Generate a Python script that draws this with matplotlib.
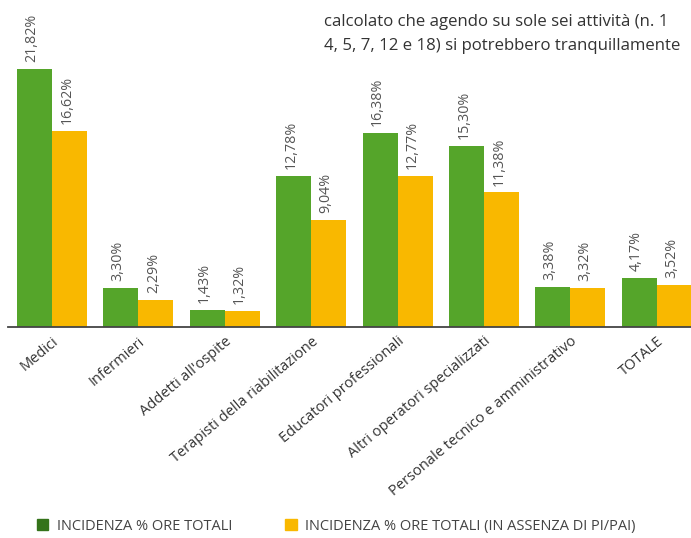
import matplotlib
matplotlib.use('Agg')
import matplotlib.pyplot as plt
from matplotlib.patches import Patch
import numpy as np

plt.rcParams['font.family'] = ['Open Sans', 'DejaVu Sans']

categories = ['Medici', 'Infermieri', "Addetti all'ospite", 'Terapisti della riabilitazione',
              'Educatori professionali', 'Altri operatori specializzati',
              'Personale tecnico e amministrativo', 'TOTALE']
ore_totali = [21.82, 3.30, 1.43, 12.78, 16.38, 15.30, 3.38, 4.17]
ore_senza_pi = [16.62, 2.29, 1.32, 9.04, 12.77, 11.38, 3.32, 3.52]
series_names = ['INCIDENZA % ORE TOTALI', 'INCIDENZA % ORE TOTALI (IN ASSENZA DI PI/PAI)']

GREEN = '#55a52a'
GREEN_DARK = '#34731a'
YELLOW = '#f9b800'
GREY = '#555555'

W, H = 691, 538
fig = plt.figure(figsize=(W / 100, H / 100), dpi=100)
ax = fig.add_axes([8 / W, 1 - 327 / H, 1 - 8 / W, 327 / H])

x = np.arange(len(categories))
width = 0.405
b1 = ax.bar(x - width / 2, ore_totali, width, color=GREEN, zorder=2)
b2 = ax.bar(x + width / 2, ore_senza_pi, width, color=YELLOW, zorder=2)

for bars, vals in ((b1, ore_totali), (b2, ore_senza_pi)):
    for bar, v in zip(bars, vals):
        ax.annotate(f'{v:.2f}%'.replace('.', ','),
                    (bar.get_x() + bar.get_width() / 2 - 0.03, bar.get_height()),
                    xytext=(0, 5), textcoords='offset points',
                    rotation=90, ha='center', va='bottom',
                    fontsize=10.3, color=GREY)

ax.set_xlim(-0.509, 7.396)
ax.set_ylim(0, 27.66)
for s in ['top', 'right', 'left']:
    ax.spines[s].set_visible(False)
ax.spines['bottom'].set_color('#444444')
ax.spines['bottom'].set_linewidth(1.3)
ax.set_yticks([])
ax.set_xticks(x)
ax.set_xticklabels(categories, rotation=40, ha='right', rotation_mode='anchor',
                   fontsize=10.5, color='#333333')
ax.tick_params(axis='x', length=0, pad=5)

handles = [Patch(color=GREEN_DARK), Patch(color=YELLOW)]
fig.legend(handles, series_names, loc='center left', bbox_to_anchor=(0.053, 0.022),
           ncol=2, frameon=False, handlelength=0.8, handleheight=0.8,
           handletextpad=0.6, columnspacing=3.6, fontsize=10.5, labelcolor='#444444',
           borderaxespad=0, borderpad=0)

# testo della pagina che si sovrappone al grafico (in alto a destra)
fig.text(324 / W, 1 - 22 / H, 'calcolato che agendo su sole sei attività (n. 1',
         fontsize=12.1, color='#333333', va='center', ha='left')
fig.text(324 / W, 1 - 46 / H, '4, 5, 7, 12 e 18) si potrebbero tranquillamente',
         fontsize=12.1, color='#333333', va='center', ha='left')

fig.savefig('out.png', dpi=100)
